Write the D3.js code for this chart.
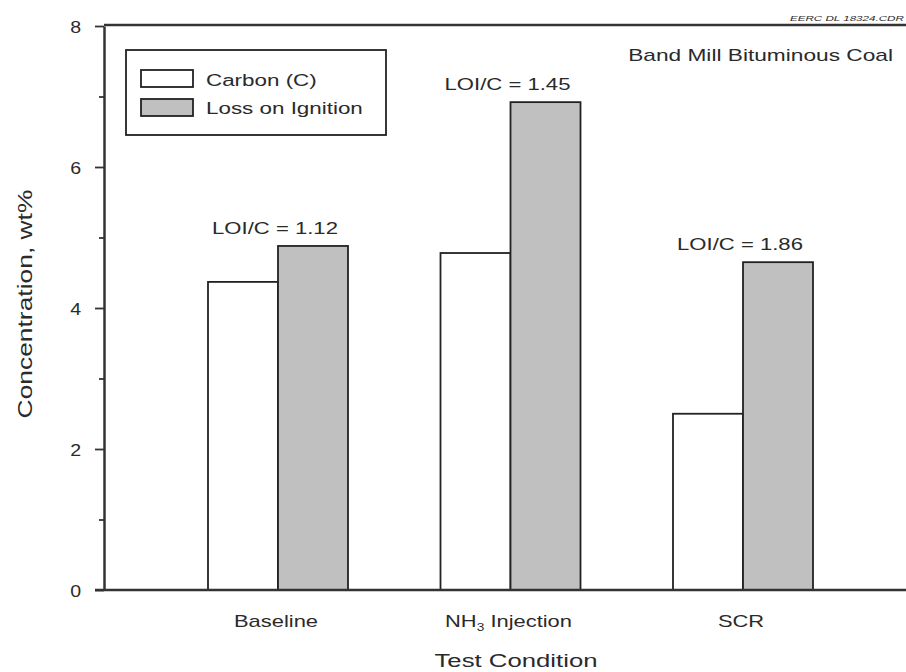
<!DOCTYPE html>
<html><head><meta charset="utf-8">
<script src="https://cdn.jsdelivr.net/npm/d3@7"></script>
<style>body{margin:0;background:#fff;} text{font-family:"Liberation Sans",Arial,sans-serif;fill:#2a2a2a;}</style>
</head><body>
<svg id="c" width="906" height="672"></svg>
<script>
const categories = ["Baseline", "NH3 Injection", "SCR"];
const seriesNames = ["Carbon (C)", "Loss on Ignition"];
const carbon = [4.37, 4.78, 2.50];
const loi = [4.88, 6.92, 4.65];
const ratioLabels = ["LOI/C = 1.12", "LOI/C = 1.45", "LOI/C = 1.86"];
const yTicks = [0, 2, 4, 6, 8];
const yMinorTicks = [1, 3, 5, 7];
const colors = ["#ffffff", "#c0c0c0"];

const svg = d3.select("#c");
const mLeft = 104, mRight = 906, mTop = 26, mBottom = 590;
const y = d3.scaleLinear().domain([0, 8]).range([mBottom, mTop]);
const x = d3.scaleBand().domain(categories).range([161.75, 859.25]).padding(0);
const xs = d3.scaleBand().domain(seriesNames).range([0, 140]);
const barOffset = (x.bandwidth() - 140) / 2;

// stretched text helper (reference glyphs are wide)
function stext(px, py, size, sx, anchor, str, rot) {
  const t = svg.append("text")
    .attr("transform", `translate(${px},${py})` + (rot ? ` rotate(${rot})` : "") + ` scale(${sx},1)`)
    .attr("font-size", size).attr("text-anchor", anchor || "start");
  if (str !== undefined) t.text(str);
  return t;
}

// top frame line
svg.append("line").attr("x1", mLeft).attr("x2", mRight).attr("y1", mTop - 1).attr("y2", mTop - 1).attr("stroke", "#333").attr("stroke-width", 2.5);

// bars
categories.forEach((c, i) => {
  const vals = [carbon[i], loi[i]];
  seriesNames.forEach((s, j) => {
    svg.append("rect")
      .attr("x", x(c) + barOffset + xs(s))
      .attr("y", y(vals[j]))
      .attr("width", xs.bandwidth())
      .attr("height", y(0) - y(vals[j]))
      .attr("fill", colors[j]).attr("stroke", "#222").attr("stroke-width", 1.8);
  });
  stext(x(c) + x.bandwidth() / 2 - 3, y(loi[i]) - 12, 17, 1.3, "middle", ratioLabels[i]);
});

// y axis
const yAxis = d3.axisLeft(y).tickValues(yTicks).tickSize(9).tickPadding(0).tickSizeOuter(0);
const ga = svg.append("g").attr("transform", `translate(${mLeft},0)`).call(yAxis);
ga.select(".domain").attr("stroke", "#333").attr("stroke-width", 2.5);
ga.selectAll(".tick line").attr("stroke", "#333").attr("stroke-width", 1.8);
ga.selectAll(".tick text").attr("x", 0).attr("dy", null)
  .attr("transform", "translate(-23,6) scale(1.15,1)")
  .attr("font-size", 17).attr("font-family", "Liberation Sans, Arial, sans-serif").attr("fill", "#2a2a2a");
const yAxisMinor = d3.axisLeft(y).tickValues(yMinorTicks).tickSize(5).tickFormat("");
const gm = svg.append("g").attr("transform", `translate(${mLeft},0)`).call(yAxisMinor);
gm.select(".domain").remove();
gm.selectAll(".tick line").attr("stroke", "#333").attr("stroke-width", 1.8);

// x axis baseline
svg.append("line").attr("x1", mLeft - 9).attr("x2", mRight).attr("y1", mBottom).attr("y2", mBottom).attr("stroke", "#333").attr("stroke-width", 2.5);

// x labels
categories.forEach(c => {
  const t = stext(x(c) + x.bandwidth() / 2 - 2, 627, 16, 1.37, "middle");
  if (c.startsWith("NH3")) {
    t.append("tspan").text("NH");
    t.append("tspan").attr("font-size", 10).attr("dy", 4).text("3");
    t.append("tspan").attr("dy", -4).text(" Injection");
  } else t.text(c);
});
stext(516, 667, 17.5, 1.47, "middle", "Test Condition");
stext(32, 304, 20, 1.32, "middle", "Concentration, wt%", -90);

// legend
svg.append("rect").attr("x", 126).attr("y", 50).attr("width", 260).attr("height", 85).attr("fill", "#fff").attr("stroke", "#222").attr("stroke-width", 1.8);
seriesNames.forEach((s, j) => {
  svg.append("rect").attr("x", 141).attr("y", 70 + j * 29).attr("width", 52).attr("height", 17)
    .attr("fill", colors[j]).attr("stroke", "#222").attr("stroke-width", 1.8);
  stext(206, 86 + j * 28, 16, 1.4, "start", s);
});

stext(893, 61, 16, 1.42, "end", "Band Mill Bituminous Coal");
stext(790, 21, 8, 1.45, "start", "EERC DL 18324.CDR").attr("font-style", "italic");
</script>
</body></html>
